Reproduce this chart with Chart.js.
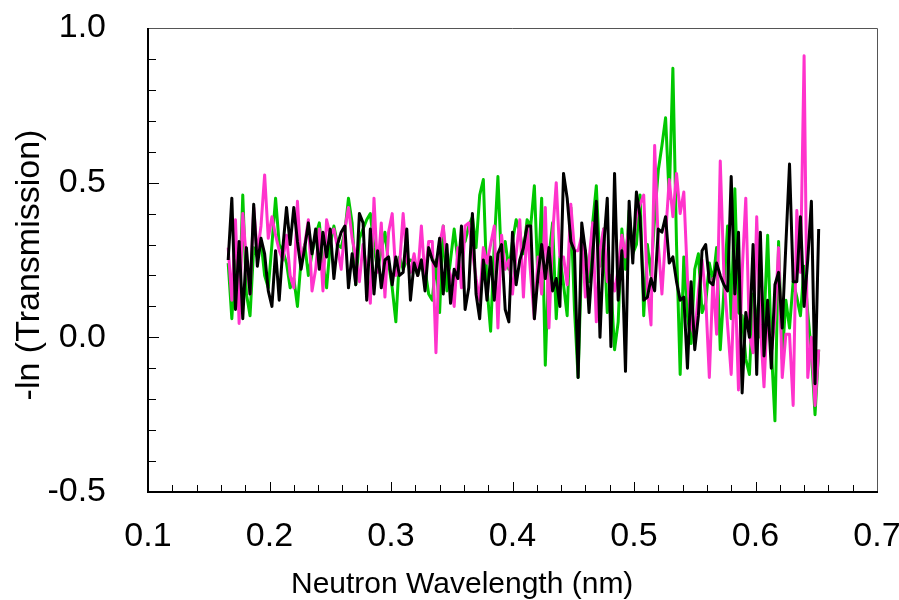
<!DOCTYPE html>
<html>
<head>
<meta charset="utf-8">
<script src="https://cdn.jsdelivr.net/npm/chart.js@4.4.1/dist/chart.umd.min.js"></script>
<style>
  html, body { margin: 0; padding: 0; background: #fff; }
  #wrap { width: 899px; height: 600px; }
</style>
</head>
<body>
<div id="wrap"><canvas id="chart" width="899" height="600"></canvas></div>
<script>
// neutron wavelength (nm)
const wavelength = [
  0.166, 0.169, 0.172, 0.175, 0.178, 0.181, 0.184, 0.187, 0.190, 0.193,
  0.196, 0.199, 0.202, 0.205, 0.208, 0.211, 0.214, 0.217, 0.220, 0.223,
  0.226, 0.229, 0.232, 0.235, 0.238, 0.241, 0.244, 0.247, 0.250, 0.253,
  0.256, 0.259, 0.262, 0.265, 0.268, 0.271, 0.274, 0.277, 0.280, 0.283,
  0.286, 0.289, 0.292, 0.295, 0.298, 0.301, 0.304, 0.307, 0.310, 0.313,
  0.316, 0.319, 0.322, 0.325, 0.328, 0.331, 0.334, 0.337, 0.340, 0.343,
  0.346, 0.349, 0.352, 0.355, 0.358, 0.361, 0.364, 0.367, 0.370, 0.373,
  0.376, 0.379, 0.382, 0.385, 0.388, 0.391, 0.394, 0.397, 0.400, 0.403,
  0.406, 0.409, 0.412, 0.415, 0.418, 0.421, 0.424, 0.427, 0.430, 0.433,
  0.436, 0.439, 0.442, 0.445, 0.448, 0.451, 0.454, 0.457, 0.460, 0.463,
  0.466, 0.469, 0.472, 0.475, 0.478, 0.481, 0.484, 0.487, 0.490, 0.493,
  0.496, 0.499, 0.502, 0.505, 0.508, 0.511, 0.514, 0.517, 0.520, 0.523,
  0.526, 0.529, 0.532, 0.535, 0.538, 0.541, 0.544, 0.547, 0.550, 0.553,
  0.556, 0.559, 0.562, 0.565, 0.568, 0.571, 0.574, 0.577, 0.580, 0.583,
  0.586, 0.589, 0.592, 0.595, 0.598, 0.601, 0.604, 0.607, 0.610, 0.613,
  0.616, 0.619, 0.622, 0.625, 0.628, 0.631, 0.634, 0.637, 0.640, 0.643,
  0.646, 0.649, 0.652
];

// -ln(Transmission), black trace
const blackSeries = [
  0.25, 0.45, 0.09, 0.31, 0.06, 0.29, 0.14, 0.43, 0.23, 0.32,
  0.27, 0.15, 0.10, 0.28, 0.12, 0.29, 0.42, 0.30, 0.42, 0.31,
  0.22, 0.29, 0.37, 0.27, 0.35, 0.22, 0.34, 0.26, 0.35, 0.19,
  0.30, 0.34, 0.36, 0.16, 0.27, 0.17, 0.40, 0.37, 0.12, 0.35,
  0.14, 0.28, 0.16, 0.25, 0.26, 0.17, 0.26, 0.20, 0.21, 0.35,
  0.12, 0.24, 0.20, 0.25, 0.15, 0.29, 0.25, 0.23, 0.32, 0.14,
  0.30, 0.11, 0.22, 0.19, 0.36, 0.09, 0.16, 0.40, 0.14, 0.06,
  0.25, 0.12, 0.26, 0.12, 0.27, 0.30, 0.09, 0.05, 0.34, 0.17,
  0.25, 0.29, 0.36, 0.36, 0.06, 0.20, 0.30, 0.19, 0.29, 0.15,
  0.19, 0.10, 0.53, 0.45, 0.31, 0.28, -0.13, 0.37, 0.28, 0.08,
  0.26, 0.44, 0.00, 0.29, 0.45, -0.03, 0.53, 0.12, 0.28, -0.11,
  0.44, 0.24, 0.47, 0.39, 0.12, 0.13, 0.19, 0.15, 0.35, 0.34,
  0.39, 0.24, 0.26, 0.18, 0.12, 0.13, -0.10, 0.18, -0.04, 0.07,
  0.28, 0.30, 0.18, 0.17, 0.24, 0.20, 0.17, 0.15, 0.52, 0.14,
  0.34, -0.18, 0.08, 0.00, 0.30, -0.12, 0.34, -0.06, 0.12, -0.10,
  0.17, 0.21, 0.03, 0.30, 0.56, 0.18, 0.18, 0.39, 0.10, 0.25,
  0.44, -0.15, 0.35
];

// -ln(Transmission), green trace
const greenSeries = [
  0.24, 0.06, 0.25, 0.10, 0.46, 0.14, 0.07, 0.29, 0.26, 0.31,
  0.20, 0.16, 0.30, 0.45, 0.30, 0.28, 0.24, 0.16, 0.19, 0.10,
  0.25, 0.30, 0.20, 0.27, 0.33, 0.37, 0.24, 0.16, 0.30, 0.36,
  0.30, 0.29, 0.34, 0.45, 0.37, 0.17, 0.32, 0.35, 0.38, 0.40,
  0.29, 0.22, 0.28, 0.34, 0.24, 0.16, 0.05, 0.26, 0.22, 0.25,
  0.25, 0.24, 0.20, 0.25, 0.22, 0.14, 0.12, 0.25, 0.08, 0.36,
  0.15, 0.25, 0.35, 0.25, 0.30, 0.31, 0.36, 0.39, 0.29, 0.46,
  0.51, 0.16, 0.02, 0.30, 0.52, 0.23, 0.31, 0.22, 0.31, 0.38,
  0.34, 0.27, 0.38, 0.36, 0.49, 0.18, 0.45, -0.09, 0.26, 0.37,
  0.06, 0.26, 0.17, 0.07, 0.42, 0.09, -0.13, 0.27, 0.28, 0.18,
  0.37, 0.49, 0.23, 0.35, 0.08, 0.17, -0.04, 0.05, 0.35, 0.22,
  0.41, 0.27, 0.30, 0.46, 0.07, 0.30, 0.20, 0.39, 0.54, 0.62,
  0.71, 0.45, 0.87, 0.30, -0.12, 0.26, 0.07, -0.02, 0.22, 0.27,
  0.08, 0.11, 0.24, 0.18, 0.29, -0.04, 0.15, 0.36, 0.06, 0.48,
  0.08, 0.07, -0.07, -0.12, 0.14, 0.06, 0.00, 0.04, 0.33, -0.03,
  -0.27, 0.31, -0.07, 0.12, 0.03, 0.18, 0.13, 0.07, 0.23, 0.08,
  -0.05, -0.25, -0.04
];

// -ln(Transmission), magenta trace
const magentaSeries = [
  0.29, 0.12, 0.38, 0.045, 0.40, 0.25, 0.14, 0.42, 0.27, 0.36,
  0.525, 0.32, 0.39, 0.33, 0.28, 0.25, 0.33, 0.20, 0.16, 0.44,
  0.24, 0.30, 0.38, 0.15, 0.22, 0.35, 0.15, 0.38, 0.33, 0.35,
  0.29, 0.22, 0.35, 0.42, 0.32, 0.26, 0.18, 0.30, 0.22, 0.11,
  0.45, 0.21, 0.37, 0.13, 0.34, 0.40, 0.20, 0.23, 0.40, 0.25,
  0.21, 0.27, 0.20, 0.36, 0.19, 0.31, 0.31, -0.05, 0.30, 0.36,
  0.24, 0.20, 0.10, 0.29, 0.16, 0.36, 0.37, 0.28, 0.19, 0.12,
  0.29, 0.24, 0.30, 0.36, 0.03, 0.33, 0.22, 0.25, 0.14, 0.27,
  0.38, 0.13, 0.36, 0.20, 0.06, 0.26, 0.14, 0.42, 0.03, 0.33,
  0.50, 0.26, 0.26, 0.17, 0.43, 0.28, 0.28, 0.33, 0.13, 0.25,
  0.37, 0.05, 0.28, 0.35, 0.18, 0.20, 0.15, 0.22, 0.33, 0.26,
  0.37, 0.28, 0.39, 0.43, 0.46, 0.16, 0.04, 0.62, 0.30, 0.14,
  0.33, 0.51, 0.39, 0.53, 0.40, 0.47, 0.19, 0.04, 0.00, 0.15,
  0.25, 0.13, -0.13, 0.19, 0.01, 0.57, 0.20, 0.04, -0.12, 0.21,
  -0.17, 0.21, 0.45, 0.01, -0.05, 0.39, 0.04, -0.16, 0.10, -0.05,
  0.06, 0.29, -0.13, 0.01, 0.01, -0.22, 0.41, 0.21, 0.91, -0.13,
  0.00, -0.22, -0.04
];

const xMinorTicks = [0.12, 0.14, 0.16, 0.18, 0.22, 0.24, 0.26, 0.28, 0.32, 0.34, 0.36, 0.38,
  0.42, 0.44, 0.46, 0.48, 0.52, 0.54, 0.56, 0.58, 0.62, 0.64, 0.66, 0.68];
const xMajorTicks = [0.2, 0.3, 0.4, 0.5, 0.6];
const yMinorTicks = [0.9, 0.8, 0.7, 0.6, 0.4, 0.3, 0.2, 0.1, -0.1, -0.2, -0.3, -0.4];
const yMajorTicks = [0.5, 0.0];

const xTitle = 'Neutron Wavelength (nm)';
const yTitle = '-ln (Transmission)';

const FONT = '"Liberation Sans", Arial, Helvetica, sans-serif';

function pts(ys) {
  return wavelength.map((x, i) => ({ x: x, y: ys[i] }));
}

// frame, inward tick marks and axis titles
const axisDecor = {
  id: 'axisDecor',
  afterDraw(chart) {
    const { ctx, chartArea: a, scales: { x, y } } = chart;
    ctx.save();
    ctx.strokeStyle = '#000';
    ctx.lineWidth = 1;
    ctx.beginPath();
    xMinorTicks.forEach(v => {
      const px = Math.round(x.getPixelForValue(v)) + 0.5;
      ctx.moveTo(px, a.bottom); ctx.lineTo(px, a.bottom - 7);
    });
    xMajorTicks.forEach(v => {
      const px = Math.round(x.getPixelForValue(v)) + 0.5;
      ctx.moveTo(px, a.bottom); ctx.lineTo(px, a.bottom - 10);
    });
    yMinorTicks.forEach(v => {
      const py = Math.round(y.getPixelForValue(v)) + 0.5;
      ctx.moveTo(a.left, py); ctx.lineTo(a.left + 8, py);
    });
    yMajorTicks.forEach(v => {
      const py = Math.round(y.getPixelForValue(v)) + 0.5;
      ctx.moveTo(a.left, py); ctx.lineTo(a.left + 11, py);
    });
    ctx.stroke();

    // top + right edges, thin grey
    ctx.strokeStyle = '#555';
    ctx.lineWidth = 1;
    ctx.beginPath();
    ctx.moveTo(a.left, a.top + 0.5); ctx.lineTo(a.right + 0.5, a.top + 0.5);
    ctx.lineTo(a.right + 0.5, a.bottom);
    ctx.stroke();

    // left + bottom axes
    ctx.strokeStyle = '#000';
    ctx.lineWidth = 2;
    ctx.beginPath();
    ctx.moveTo(a.left, a.top); ctx.lineTo(a.left, a.bottom);
    ctx.lineTo(a.right + 1, a.bottom);
    ctx.stroke();

    ctx.fillStyle = '#000';
    ctx.font = '30px ' + FONT;
    ctx.textAlign = 'left';
    ctx.textBaseline = 'alphabetic';
    ctx.fillText(xTitle, 291, 593);

    ctx.translate(39, 265);
    ctx.rotate(-Math.PI / 2);
    ctx.textAlign = 'center';
    ctx.font = '34px ' + FONT;
    ctx.fillText(yTitle, 0, 0);
    ctx.restore();
  }
};

new Chart(document.getElementById('chart').getContext('2d'), {
  type: 'line',
  data: {
    datasets: [
      { label: 'black', data: pts(blackSeries), borderColor: '#000000', borderWidth: 3 },
      { label: 'magenta', data: pts(magentaSeries), borderColor: '#ff33cc', borderWidth: 3 },
      { label: 'green', data: pts(greenSeries), borderColor: '#00c800', borderWidth: 3 }
    ]
  },
  options: {
    responsive: false,
    animation: false,
    events: [],
    elements: {
      point: { radius: 0 },
      line: { tension: 0, fill: false, borderJoinStyle: 'round' }
    },
    layout: { padding: { top: 28, right: 22, left: 0, bottom: 0 } },
    plugins: {
      legend: { display: false },
      tooltip: { enabled: false }
    },
    scales: {
      x: {
        type: 'linear',
        min: 0.1,
        max: 0.7,
        grid: { display: false, drawTicks: false },
        border: { display: false },
        ticks: {
          stepSize: 0.1,
          padding: 24,
          color: '#000',
          font: { family: FONT, size: 34 },
          maxRotation: 0,
          callback: v => v.toFixed(1)
        },
        afterFit: s => {
          s.height = 108;
          s.paddingLeft = 0; s.paddingRight = 0;
        }
      },
      y: {
        type: 'linear',
        min: -0.5,
        max: 1.0,
        grid: { display: false, drawTicks: false },
        border: { display: false },
        ticks: {
          stepSize: 0.5,
          padding: 42,
          color: '#000',
          font: { family: FONT, size: 34 },
          callback: v => v.toFixed(1)
        },
        afterFit: s => {
          s.width = 148;
          s.paddingTop = 0; s.paddingBottom = 0;
        }
      }
    }
  },
  plugins: [axisDecor]
});
</script>
</body>
</html>
